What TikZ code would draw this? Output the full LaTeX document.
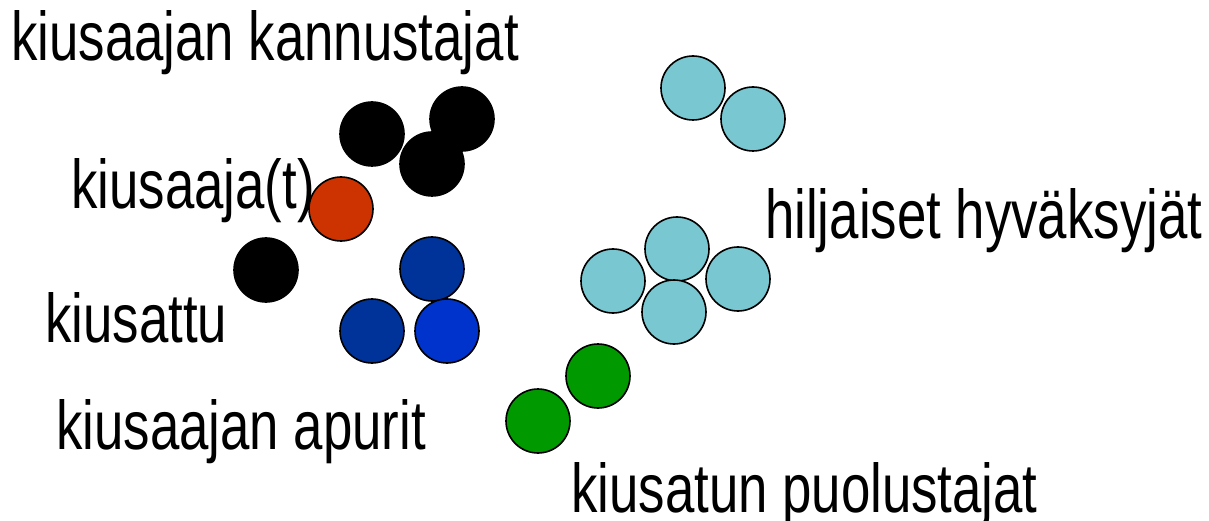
\documentclass[tikz,border=0pt]{standalone}
\usepackage{fontspec}
\setmainfont{Liberation Sans}[FakeStretch=0.765]
\definecolor{bully}{RGB}{204,51,0}
\definecolor{darkblue}{RGB}{0,51,153}
\definecolor{brightblue}{RGB}{0,51,204}
\definecolor{paleteal}{RGB}{121,199,208}
\definecolor{defgreen}{RGB}{0,153,0}
\tikzset{
  person/.style={circle, draw=black, line width=1.6pt, minimum size=64pt, inner sep=0pt},
  lbl/.style={anchor=base west, inner sep=0pt, font=\fontsize{69}{80}\selectfont}
}
\begin{document}
\begin{tikzpicture}[x=1pt,y=-1pt]
\useasboundingbox (0,0) rectangle (1209,521);
% labels
\node[lbl] (t1) at (11,61) {kiusaajan kannustajat};
\node[lbl] (t2) at (71,209) {kiusaaja(t)};
\node[lbl] (t3) at (45,342) {kiusattu};
\node[lbl] (t4) at (56,449) {kiusaajan apurit};
\node[lbl] (t5) at (765,239) {hiljaiset hyväksyjät};
\node[lbl] (t6) at (571,512) {kiusatun puolustajat};
% supporters (black)
\node[person, fill=black] (b1) at (372,134) {};
\node[person, fill=black] (b2) at (462,119) {};
\node[person, fill=black] (b3) at (432,164) {};
\node[person, fill=black] (b4) at (266,270) {};
% bully
\node[person, fill=bully] (r1) at (341,209) {};
% helpers (blue)
\node[person, fill=darkblue] (u1) at (432,269) {};
\node[person, fill=darkblue] (u2) at (372,331) {};
\node[person, fill=brightblue] (u3) at (447,331) {};
% silent approvers
\node[person, fill=paleteal] (c1) at (693,88) {};
\node[person, fill=paleteal] (c2) at (753,119) {};
\node[person, fill=paleteal] (c3) at (677,249) {};
\node[person, fill=paleteal] (c4) at (613,281) {};
\node[person, fill=paleteal] (c5) at (738,279) {};
\node[person, fill=paleteal] (c6) at (674,312) {};
% defenders
\node[person, fill=defgreen] (g1) at (598,376) {};
\node[person, fill=defgreen] (g2) at (538,421) {};
\end{tikzpicture}
\end{document}
